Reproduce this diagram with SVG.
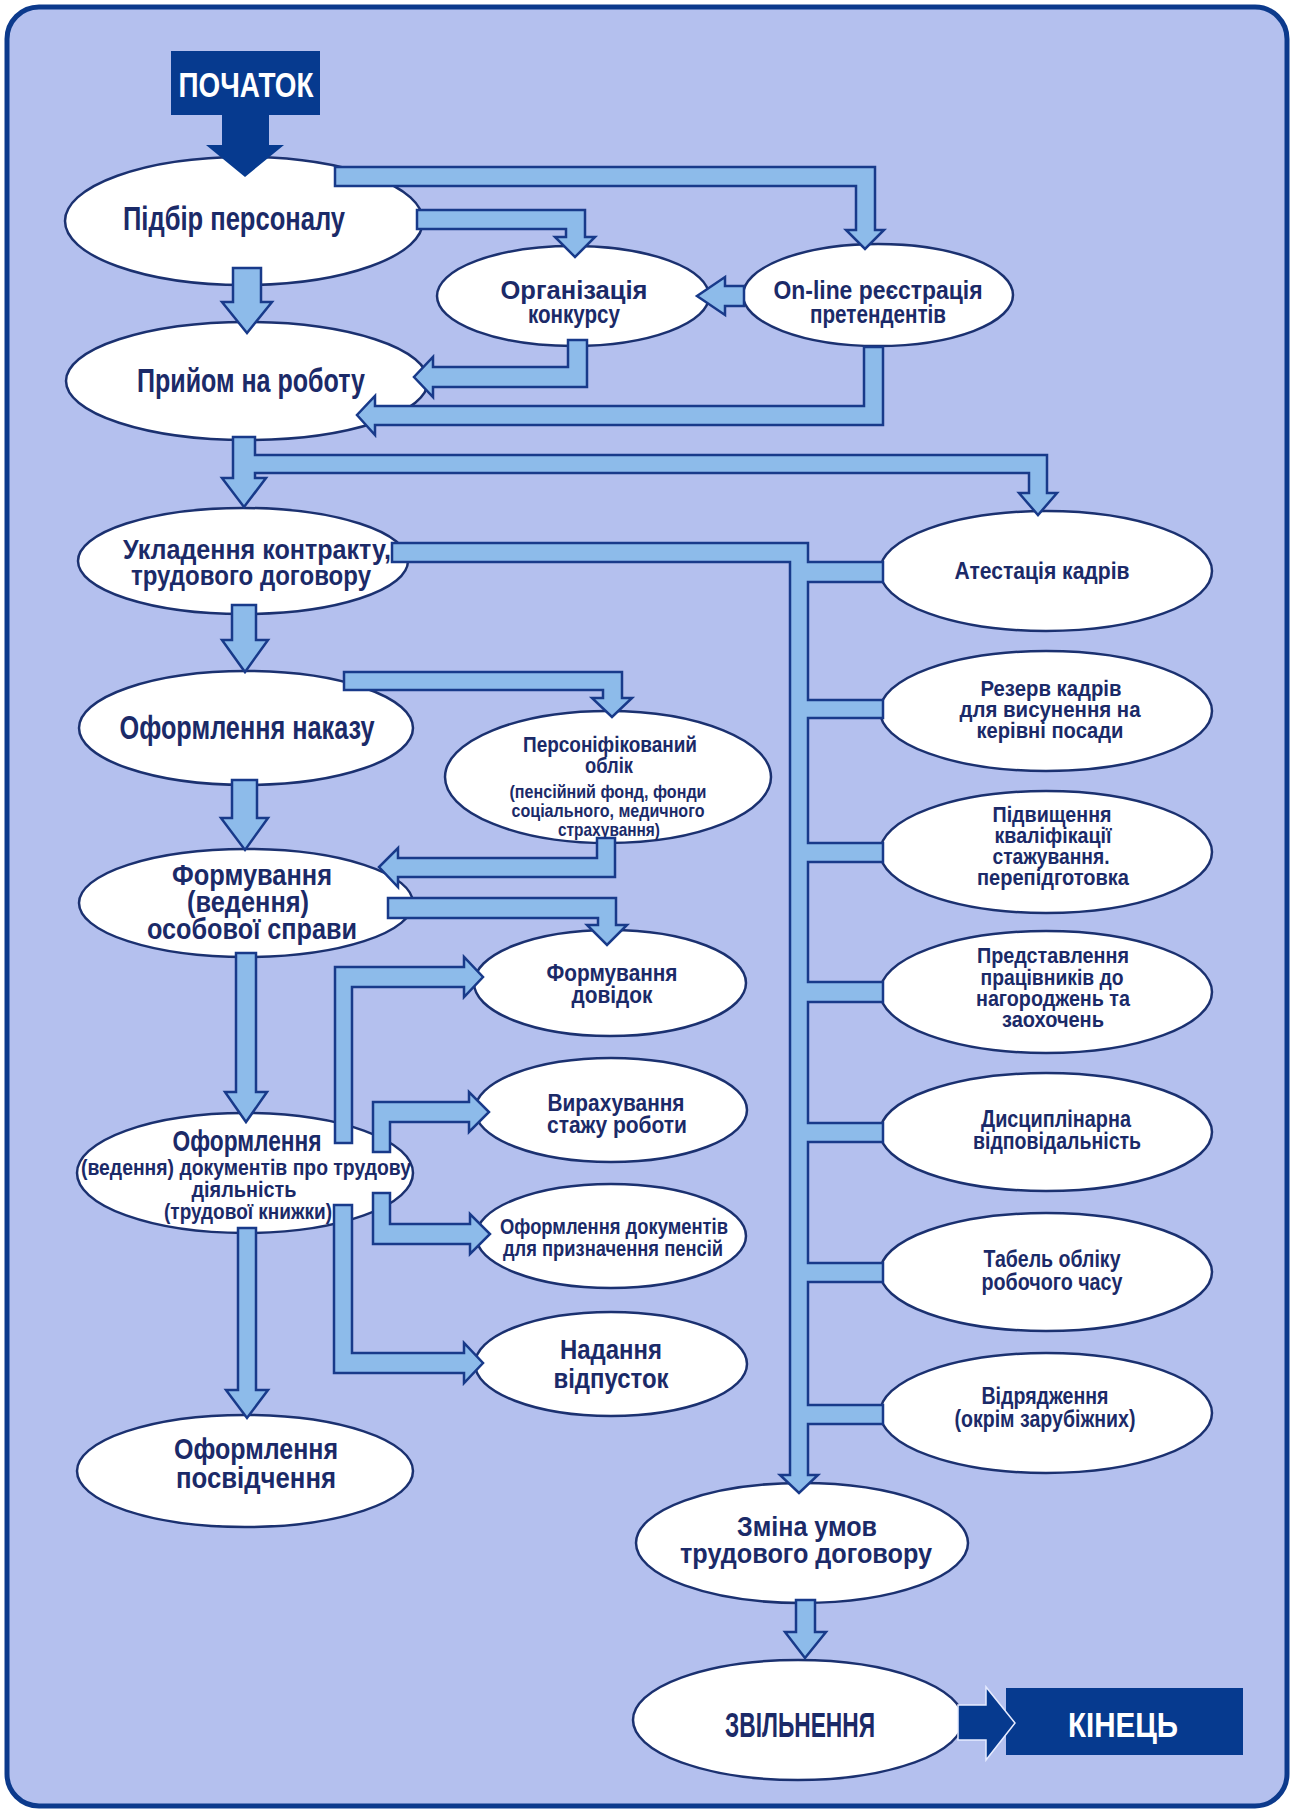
<svg xmlns="http://www.w3.org/2000/svg" width="1292" height="1812" viewBox="0 0 1292 1812">
  <style>
    .frame { fill: #b4c0ee; stroke: #0c3a8c; stroke-width: 5; }
    .node ellipse { fill: #ffffff; stroke: #1b3170; stroke-width: 2.5; }
    .term rect { fill: #063a8f; }
    .lbl { font-family: "Liberation Sans Narrow", "Liberation Sans", Arial, sans-serif; font-weight: bold; fill: #1b2a68; text-anchor: middle; }
    .wlbl { font-family: "Liberation Sans Narrow", "Liberation Sans", Arial, sans-serif; font-weight: bold; fill: #ffffff; text-anchor: middle; }
    .arr { fill: #8dbbea; stroke: #183a8a; stroke-width: 2.5; stroke-linejoin: miter; }
    .dark { fill: #063a8f; }
  </style>

  <!-- outer panel -->
  <rect class="frame" x="7" y="7" width="1280" height="1799" rx="32" ry="32"/>

  <!-- start / end terminals -->
  <g id="start" class="term">
    <rect x="171" y="51" width="149" height="64"/>
    <text class="wlbl" x="246" y="97" font-size="35" textLength="135" lengthAdjust="spacingAndGlyphs">ПОЧАТОК</text>
  </g>
  <g id="end" class="term">
    <rect x="1006" y="1688" width="237" height="67"/>
    <text class="wlbl" x="1123" y="1737" font-size="35" textLength="110" lengthAdjust="spacingAndGlyphs">КІНЕЦЬ</text>
  </g>

  <!-- process nodes -->
  <g id="n-pidbir" class="node">
    <ellipse cx="244" cy="221" rx="179" ry="64"/>
    <text class="lbl" x="234" y="230" font-size="33" textLength="222" lengthAdjust="spacingAndGlyphs">Підбір персоналу</text>
  </g>
  <g id="n-konkurs" class="node">
    <ellipse cx="573" cy="296" rx="136" ry="50"/>
    <text class="lbl" x="574" y="299" font-size="26" textLength="147" lengthAdjust="spacingAndGlyphs">Організація</text>
    <text class="lbl" x="574" y="323" font-size="26" textLength="92" lengthAdjust="spacingAndGlyphs">конкурсу</text>
  </g>
  <g id="n-online" class="node">
    <ellipse cx="878" cy="295" rx="135" ry="51"/>
    <text class="lbl" x="878" y="299" font-size="26" textLength="209" lengthAdjust="spacingAndGlyphs">On-line реєстрація</text>
    <text class="lbl" x="878" y="323" font-size="26" textLength="136" lengthAdjust="spacingAndGlyphs">претендентів</text>
  </g>
  <g id="n-pryiom" class="node">
    <ellipse cx="247" cy="381" rx="181" ry="59"/>
    <text class="lbl" x="251" y="392" font-size="33" textLength="228" lengthAdjust="spacingAndGlyphs">Прийом на роботу</text>
  </g>
  <g id="n-kontrakt" class="node">
    <ellipse cx="243" cy="561" rx="165" ry="53"/>
    <text class="lbl" x="257" y="559" font-size="27" textLength="268" lengthAdjust="spacingAndGlyphs">Укладення контракту,</text>
    <text class="lbl" x="251" y="585" font-size="27" textLength="240" lengthAdjust="spacingAndGlyphs">трудового договору</text>
  </g>
  <g id="n-nakaz" class="node">
    <ellipse cx="246" cy="728" rx="167" ry="57"/>
    <text class="lbl" x="247" y="739" font-size="33" textLength="255" lengthAdjust="spacingAndGlyphs">Оформлення наказу</text>
  </g>
  <g id="n-oblik" class="node">
    <ellipse cx="608" cy="777" rx="163" ry="66"/>
    <text class="lbl" x="610" y="752" font-size="22" textLength="174" lengthAdjust="spacingAndGlyphs">Персоніфікований</text>
    <text class="lbl" x="609" y="773" font-size="22" textLength="48" lengthAdjust="spacingAndGlyphs">облік</text>
    <text class="lbl" x="608" y="798" font-size="19" textLength="197" lengthAdjust="spacingAndGlyphs">(пенсійний фонд, фонди</text>
    <text class="lbl" x="608" y="817" font-size="19" textLength="193" lengthAdjust="spacingAndGlyphs">соціального, медичного</text>
    <text class="lbl" x="609" y="836" font-size="19" textLength="102" lengthAdjust="spacingAndGlyphs">страхування)</text>
  </g>
  <g id="n-sprava" class="node">
    <ellipse cx="246" cy="903" rx="167" ry="54"/>
    <text class="lbl" x="252" y="885" font-size="29" textLength="160" lengthAdjust="spacingAndGlyphs">Формування</text>
    <text class="lbl" x="248" y="912" font-size="29" textLength="122" lengthAdjust="spacingAndGlyphs">(ведення)</text>
    <text class="lbl" x="252" y="939" font-size="29" textLength="210" lengthAdjust="spacingAndGlyphs">особової справи</text>
  </g>
  <g id="n-dovidky" class="node">
    <ellipse cx="610" cy="983" rx="136" ry="53"/>
    <text class="lbl" x="612" y="981" font-size="23" textLength="131" lengthAdjust="spacingAndGlyphs">Формування</text>
    <text class="lbl" x="612" y="1003" font-size="23" textLength="81" lengthAdjust="spacingAndGlyphs">довідок</text>
  </g>
  <g id="n-stazh" class="node">
    <ellipse cx="611" cy="1110" rx="136" ry="52"/>
    <text class="lbl" x="616" y="1111" font-size="23" textLength="137" lengthAdjust="spacingAndGlyphs">Вирахування</text>
    <text class="lbl" x="617" y="1133" font-size="23" textLength="140" lengthAdjust="spacingAndGlyphs">стажу роботи</text>
  </g>
  <g id="n-pensii" class="node">
    <ellipse cx="611" cy="1236" rx="135" ry="52"/>
    <text class="lbl" x="614" y="1234" font-size="22" textLength="228" lengthAdjust="spacingAndGlyphs">Оформлення документів</text>
    <text class="lbl" x="613" y="1256" font-size="22" textLength="220" lengthAdjust="spacingAndGlyphs">для призначення пенсій</text>
  </g>
  <g id="n-vidpustky" class="node">
    <ellipse cx="611" cy="1364" rx="136" ry="52"/>
    <text class="lbl" x="611" y="1359" font-size="28" textLength="102" lengthAdjust="spacingAndGlyphs">Надання</text>
    <text class="lbl" x="611" y="1388" font-size="28" textLength="115" lengthAdjust="spacingAndGlyphs">відпусток</text>
  </g>
  <g id="n-knyzhka" class="node">
    <ellipse cx="245" cy="1173" rx="168" ry="60"/>
    <text class="lbl" x="247" y="1151" font-size="30" textLength="149" lengthAdjust="spacingAndGlyphs">Оформлення</text>
    <text class="lbl" x="246" y="1175" font-size="22" textLength="330" lengthAdjust="spacingAndGlyphs">(ведення) документів про трудову</text>
    <text class="lbl" x="244" y="1197" font-size="22" textLength="105" lengthAdjust="spacingAndGlyphs">діяльність</text>
    <text class="lbl" x="248" y="1219" font-size="22" textLength="168" lengthAdjust="spacingAndGlyphs">(трудової книжки)</text>
  </g>
  <g id="n-posvidchennia" class="node">
    <ellipse cx="245" cy="1471" rx="168" ry="56"/>
    <text class="lbl" x="256" y="1459" font-size="30" textLength="164" lengthAdjust="spacingAndGlyphs">Оформлення</text>
    <text class="lbl" x="256" y="1488" font-size="30" textLength="160" lengthAdjust="spacingAndGlyphs">посвідчення</text>
  </g>

  <!-- right column -->
  <g id="n-atestatsiia" class="node">
    <ellipse cx="1046" cy="571" rx="166" ry="60"/>
    <text class="lbl" x="1042" y="579" font-size="24" textLength="175" lengthAdjust="spacingAndGlyphs">Атестація кадрів</text>
  </g>
  <g id="n-rezerv" class="node">
    <ellipse cx="1046" cy="711" rx="166" ry="60"/>
    <text class="lbl" x="1051" y="696" font-size="22" textLength="141" lengthAdjust="spacingAndGlyphs">Резерв кадрів</text>
    <text class="lbl" x="1050" y="717" font-size="22" textLength="181" lengthAdjust="spacingAndGlyphs">для висунення на</text>
    <text class="lbl" x="1050" y="738" font-size="22" textLength="147" lengthAdjust="spacingAndGlyphs">керівні посади</text>
  </g>
  <g id="n-kvalifikatsiia" class="node">
    <ellipse cx="1046" cy="852" rx="166" ry="61"/>
    <text class="lbl" x="1052" y="822" font-size="22" textLength="119" lengthAdjust="spacingAndGlyphs">Підвищення</text>
    <text class="lbl" x="1053" y="843" font-size="22" textLength="117" lengthAdjust="spacingAndGlyphs">кваліфікації</text>
    <text class="lbl" x="1051" y="864" font-size="22" textLength="117" lengthAdjust="spacingAndGlyphs">стажування.</text>
    <text class="lbl" x="1053" y="885" font-size="22" textLength="152" lengthAdjust="spacingAndGlyphs">перепідготовка</text>
  </g>
  <g id="n-nahorody" class="node">
    <ellipse cx="1046" cy="992" rx="166" ry="61"/>
    <text class="lbl" x="1053" y="963" font-size="22" textLength="152" lengthAdjust="spacingAndGlyphs">Представлення</text>
    <text class="lbl" x="1052" y="985" font-size="22" textLength="143" lengthAdjust="spacingAndGlyphs">працівників до</text>
    <text class="lbl" x="1053" y="1006" font-size="22" textLength="154" lengthAdjust="spacingAndGlyphs">нагороджень та</text>
    <text class="lbl" x="1053" y="1027" font-size="22" textLength="102" lengthAdjust="spacingAndGlyphs">заохочень</text>
  </g>
  <g id="n-dystsyplina" class="node">
    <ellipse cx="1046" cy="1132" rx="166" ry="59"/>
    <text class="lbl" x="1056" y="1127" font-size="23" textLength="150" lengthAdjust="spacingAndGlyphs">Дисциплінарна</text>
    <text class="lbl" x="1057" y="1149" font-size="23" textLength="168" lengthAdjust="spacingAndGlyphs">відповідальність</text>
  </g>
  <g id="n-tabel" class="node">
    <ellipse cx="1046" cy="1272" rx="166" ry="59"/>
    <text class="lbl" x="1052" y="1267" font-size="23" textLength="137" lengthAdjust="spacingAndGlyphs">Табель обліку</text>
    <text class="lbl" x="1052" y="1290" font-size="23" textLength="141" lengthAdjust="spacingAndGlyphs">робочого часу</text>
  </g>
  <g id="n-vidriadzhennia" class="node">
    <ellipse cx="1046" cy="1413" rx="166" ry="60"/>
    <text class="lbl" x="1045" y="1404" font-size="23" textLength="127" lengthAdjust="spacingAndGlyphs">Відрядження</text>
    <text class="lbl" x="1045" y="1427" font-size="23" textLength="181" lengthAdjust="spacingAndGlyphs">(окрім зарубіжних)</text>
  </g>

  <!-- bottom chain -->
  <g id="n-zmina" class="node">
    <ellipse cx="802" cy="1543" rx="166" ry="60"/>
    <text class="lbl" x="807" y="1536" font-size="28" textLength="140" lengthAdjust="spacingAndGlyphs">Зміна умов</text>
    <text class="lbl" x="806" y="1563" font-size="28" textLength="252" lengthAdjust="spacingAndGlyphs">трудового договору</text>
  </g>
  <g id="n-zvilnennia" class="node">
    <ellipse cx="798" cy="1720" rx="165" ry="60"/>
    <text class="lbl" x="800" y="1737" font-size="35" textLength="150" lengthAdjust="spacingAndGlyphs">ЗВІЛЬНЕННЯ</text>
  </g>

  <!-- connectors -->
  <g id="connectors">
    <!-- terminal arrows -->
    <polygon class="dark" points="222,115 269,115 269,145 284,145 245,177 206,145 222,145"/>
    <polygon class="dark" points="958,1705 986,1705 986,1687 1015,1723 986,1760 986,1740 958,1740" stroke="#e6ebff" stroke-width="1.5"/>

    <!-- Підбір персоналу → On-line реєстрація -->
    <polygon class="arr" points="335,167 875,167 875,230 884,230 865,249 846,230 856,230 856,186 335,186"/>
    <!-- Підбір персоналу → Організація конкурсу -->
    <polygon class="arr" points="417,210 585,210 585,237 595,237 575,257 555,237 566,237 566,229 417,229"/>
    <!-- On-line реєстрація → Організація конкурсу -->
    <polygon class="arr" points="744,286 725,286 725,277 697,296 725,315 725,306 744,306"/>
    <!-- Організація конкурсу → Прийом на роботу -->
    <polygon class="arr" points="568,340 587,340 587,387 433,387 433,397 414,377 433,357 433,367 568,367"/>
    <!-- On-line реєстрація → Прийом на роботу -->
    <polygon class="arr" points="864,347 883,347 883,425 375,425 375,435 357,415 375,396 375,406 864,406"/>
    <!-- Підбір персоналу → Прийом на роботу -->
    <polygon class="arr" points="233,268 261,268 261,302 272,302 247,333 222,302 233,302"/>
    <!-- Прийом на роботу → Укладення контракту, with branch to Атестація -->
    <polygon class="arr" points="233,437 255,437 255,455 1047,455 1047,493 1057,493 1038,515 1019,493 1029,493 1029,473 255,473 255,478 266,478 244,507 222,478 233,478"/>
    <!-- Укладення контракту → vertical trunk with side branches → Зміна умов -->
    <path class="arr" d="M392,543 H808 V562 H883 V582 H808 V700 H883 V718 H808 V843 H883 V862 H808 V982 H883 V1002 H808 V1123 H883 V1142 H808 V1263 H883 V1282 H808 V1405 H883 V1424 H808 V1475 H818 L799,1493 L780,1475 H790 V562 H392 Z"/>
    <!-- Укладення контракту → Оформлення наказу -->
    <polygon class="arr" points="232,605 256,605 256,640 268,640 245,672 222,640 232,640"/>
    <!-- Оформлення наказу → Персоніфікований облік -->
    <polygon class="arr" points="344,672 622,672 622,698 632,698 612,717 592,698 603,698 603,690 344,690"/>
    <!-- Оформлення наказу → Формування особової справи -->
    <polygon class="arr" points="232,780 257,780 257,818 268,818 245,850 221,818 232,818"/>
    <!-- Персоніфікований облік → Формування особової справи -->
    <polygon class="arr" points="597,838 615,838 615,877 398,877 398,887 379,867 398,848 398,858 597,858"/>
    <!-- Формування особової справи → Формування довідок -->
    <polygon class="arr" points="388,898 616,898 616,925 627,925 607,945 587,925 598,925 598,918 388,918"/>
    <!-- Формування особової справи → Оформлення трудової книжки -->
    <polygon class="arr" points="236,953 256,953 256,1092 267,1092 246,1122 225,1092 236,1092"/>
    <!-- трудова книжка → Формування довідок -->
    <polygon class="arr" points="335,1143 335,967 464,967 464,957 483,977 464,997 464,987 352,987 352,1143"/>
    <!-- трудова книжка → Вирахування стажу -->
    <polygon class="arr" points="373,1152 373,1102 469,1102 469,1092 489,1112 469,1132 469,1122 390,1122 390,1152"/>
    <!-- трудова книжка → документи для пенсій -->
    <polygon class="arr" points="373,1193 390,1193 390,1224 470,1224 470,1214 490,1234 470,1254 470,1244 373,1244"/>
    <!-- трудова книжка → Надання відпусток -->
    <polygon class="arr" points="334,1205 352,1205 352,1353 464,1353 464,1343 483,1363 464,1383 464,1373 334,1373"/>
    <!-- трудова книжка → Оформлення посвідчення -->
    <polygon class="arr" points="238,1228 256,1228 256,1390 268,1390 247,1418 226,1390 238,1390"/>
    <!-- Зміна умов → Звільнення -->
    <polygon class="arr" points="796,1600 815,1600 815,1632 826,1632 805,1658 785,1632 796,1632"/>
  </g>
</svg>
